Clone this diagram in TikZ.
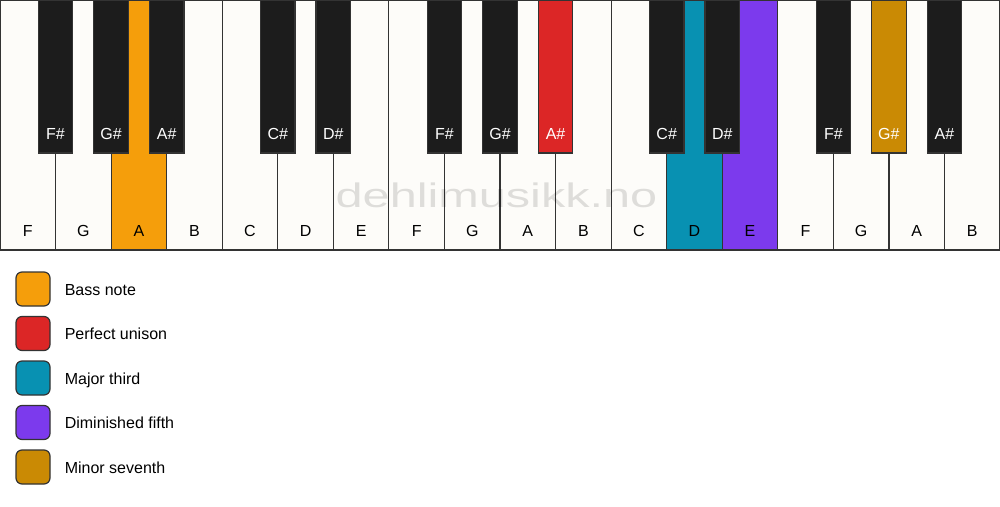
\documentclass[tikz,border=0pt]{standalone}
\usepackage{fontspec}
\setmainfont{Liberation Sans}
\usetikzlibrary{positioning}
\definecolor{bass}{HTML}{F59E0B}
\definecolor{unison}{HTML}{DC2626}
\definecolor{third}{HTML}{0891B2}
\definecolor{fifth}{HTML}{7C3AED}
\definecolor{seventh}{HTML}{CA8A04}
\definecolor{ivory}{HTML}{FDFCF9}
\definecolor{ebony}{HTML}{1C1C1C}
\definecolor{edge}{HTML}{333333}
\begin{document}
\begin{tikzpicture}
[x=1pt,y=-1pt,
wkey/.style={rectangle,draw=edge,line width=1.2pt,anchor=north west,minimum width=55.56pt,minimum height=250pt,inner sep=0pt,outer sep=0pt},
bkey/.style={rectangle,draw=edge,line width=1.2pt,anchor=north,minimum width=34.5pt,minimum height=153pt,inner sep=0pt,outer sep=0pt},
keyname/.style={font=\fontsize{16}{19}\selectfont,inner sep=0pt,anchor=base},
legendbox/.style={rectangle,rounded corners=6pt,draw=edge,line width=1.2pt,minimum size=34pt,inner sep=0pt},
legendtext/.style={font=\fontsize{16}{19}\selectfont,inner sep=0pt,anchor=base west},
watermark/.style={font=\fontsize{34}{40}\selectfont,text=black,opacity=0.12,inner sep=0pt,anchor=base}]
\useasboundingbox (0,0) rectangle (1000,506);
% white keys
\foreach \i / \n / \c in {0/F/ivory,1/G/ivory,2/A/bass,3/B/ivory,4/C/ivory,5/D/ivory,6/E/ivory,7/F/ivory,8/G/ivory,9/A/ivory,10/B/ivory,11/C/ivory,12/D/third,13/E/fifth,14/F/ivory,15/G/ivory,16/A/ivory,17/B/ivory}
{
	\node[wkey,fill=\c] (w\i) at ({\i*55.556},0) {};
	\node[keyname] (wn\i) at ([yshift=13.5pt]w\i.south) {\n};
}
\node[watermark] (wm) at (496.5,207) {\scalebox{1.43}[1]{dehlimusikk.no}};
% black keys
\foreach \b / \n / \c in {1/F\#/ebony,2/G\#/ebony,3/A\#/ebony,5/C\#/ebony,6/D\#/ebony,8/F\#/ebony,9/G\#/ebony,10/A\#/unison,12/C\#/ebony,13/D\#/ebony,15/F\#/ebony,16/G\#/seventh,17/A\#/ebony}
{
	\node[bkey,fill=\c] (b\b) at ({\b*55.556},0) {};
	\node[keyname,text=white] (bn\b) at ([yshift=14pt]b\b.south) {\n};
}
% legend
\foreach \k / \c / \t in {0/bass/Bass note,1/unison/Perfect unison,2/third/Major third,3/fifth/Diminished fifth,4/seventh/Minor seventh}
{
	\node[legendbox,fill=\c] (l\k) at (33,{289+44.5*\k}) {};
	\node[legendtext] (lt\k) at ([xshift=14pt,yshift=-6pt]l\k.east) {\t};
}
\end{tikzpicture}
\end{document}
